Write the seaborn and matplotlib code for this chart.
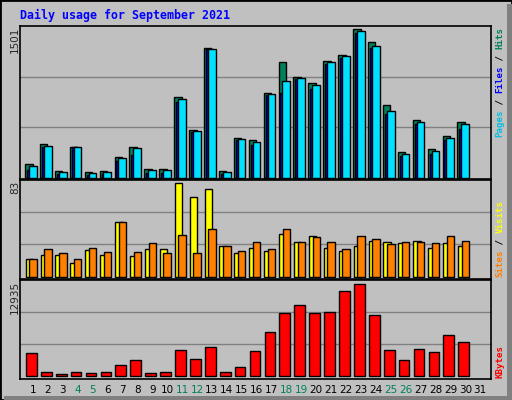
import matplotlib
matplotlib.use("Agg")
import matplotlib.pyplot as plt
import seaborn as sns
import numpy as np
from matplotlib.patches import Rectangle

days = list(range(1, 32))
hits = [133,332,66,305,53,66,206,305,83,83,800,475,1288,66,395,372,840,1149,999,940,1159,1218,1467,1338,720,252,571,282,412,551,0]
files = [80,305,40,299,30,40,166,226,50,50,747,452,1272,40,372,322,820,840,979,880,1129,1189,1428,1288,631,212,531,232,372,481,0]
pages = [116,312,53,305,43,53,193,295,73,73,780,461,1278,53,382,352,830,960,989,920,1149,1208,1447,1308,661,232,551,262,392,531,0]
visits = [15,19,19,12,23,19,47,18,24,24,80,68,75,26,20,25,22,37,30,35,25,22,26,31,30,29,31,25,29,26,0]
sites = [15,24,20,15,25,21,47,21,29,20,36,20,41,26,22,30,24,41,30,34,30,24,35,32,28,30,30,29,35,31,0]
kbytes = [3040,454,227,454,318,454,1407,2088,318,454,3450,2225,3859,454,1135,3314,5902,8490,9579,8490,8626,11486,12440,8217,3450,2088,3587,3178,5493,4540,0]
weekend = [4, 5, 11, 12, 18, 19, 25, 26]
title = "Daily usage for September 2021"

sns.set_style("white")
BG = "#c0c0c0"
W, H = 512, 400
fig = plt.figure(figsize=(W/100, H/100), dpi=100, facecolor=BG)

def ax_at(top, bottom):
    return fig.add_axes([20/W, 1-bottom/H, (490.7-20)/W, (bottom-top)/H])

x = np.array(days, dtype=float)
ek = dict(edgecolor="black", linewidth=1)

def bars(ax, off, vals, w, col, z):
    v = np.array(vals, dtype=float)
    m = v > 0
    ax.bar(x[m]+off, v[m], width=w, align="edge", color=col, zorder=z, **ek)

def style(ax, ymin, ymax):
    ax.set_facecolor(BG)
    ax.set_xlim(0.13, 31.7)
    ax.set_ylim(ymin, ymax)
    for t in (ymax/3, 2*ymax/3):
        ax.axhline(t, color="#808080", lw=1, zorder=0)
    ax.set_yticks([])
    for s in ax.spines.values():
        s.set_color("black"); s.set_linewidth(1.2)

ax1 = ax_at(26, 179)
style(ax1, -13, 1501)
bars(ax1, -0.53, hits, 0.5, "#00805c", 2)
bars(ax1, -0.40, files, 0.45, "#0000ff", 3)
bars(ax1, -0.27, pages, 0.52, "#00e0ff", 4)
ax1.set_xticks([])

ax2 = ax_at(180, 279)
style(ax2, -2, 83)
bars(ax2, -0.49, visits, 0.5, "#ffff00", 2)
bars(ax2, -0.25, sites, 0.5, "#ff8000", 3)
ax2.set_xticks([])

ax3 = ax_at(280, 379)
style(ax3, -450, 12935)
bars(ax3, -0.47, kbytes, 0.72, "#ff0000", 2)
ax3.set_xticks(days)
ax3.set_xticklabels([str(d) for d in days], fontsize=7.5, family="DejaVu Sans")
ax3.tick_params(axis="x", length=0, pad=4)
for lab, d in zip(ax3.get_xticklabels(), days):
    lab.set_color("#00805c" if d in weekend else "black")

for val, top in (("1501", 27), ("83", 181), ("12935", 281)):
    fig.text(15/W, 1-top/H, val, rotation=90, ha="center", va="top", fontsize=7.5, family="DejaVu Sans")

fig.text(20/W, 1-15/H, title, color="#0000ff", fontsize=8.4, weight="bold",
         family="DejaVu Sans Mono", ha="left", va="center")

def vlegend(pieces, ybottom, xc=500, step=5.5):
    y = ybottom
    for txt, col in pieces:
        fig.text(xc/W, 1-y/H, txt, rotation=90, color=col, fontsize=6.6, weight="bold",
                 family="DejaVu Sans Mono", ha="center", va="bottom")
        y -= step*len(txt)

vlegend([("Pages", "#00c0e0"), (" / ", "black"), ("Files", "#0000ff"), (" / ", "black"), ("Hits", "#00805c")], 137)
vlegend([("Sites", "#ff8000"), (" / ", "black"), ("Visits", "#ffff00")], 277)
vlegend([("KBytes", "#ff0000")], 378)

fig.add_artist(Rectangle((0, 0), 1, 1, transform=fig.transFigure, fill=False, edgecolor="black", lw=2))
fig.add_artist(Rectangle(((W-5)/W, 0), 5/W, (H-4)/H, transform=fig.transFigure, color="#808080", lw=0))
fig.add_artist(Rectangle((4/W, 0), (W-4)/W, 4/H, transform=fig.transFigure, color="#808080", lw=0))

fig.savefig("out.png", dpi=100, facecolor=BG)
